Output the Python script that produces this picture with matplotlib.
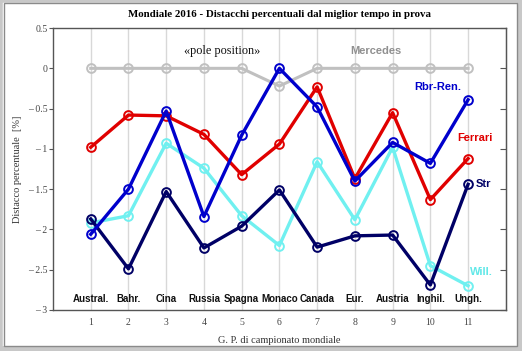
import matplotlib
matplotlib.use("Agg")
import matplotlib.pyplot as plt
from matplotlib.patches import Rectangle

gp = list(range(1, 12))
races = ["Austral.", "Bahr.", "Cina", "Russia", "Spagna", "Monaco",
         "Canada", "Eur.", "Austria", "Inghil.", "Ungh."]

mercedes = [0, 0, 0, 0, 0, -0.22, 0, 0, 0, 0, 0]
ferrari = [-0.98, -0.58, -0.59, -0.82, -1.32, -0.94, -0.23, -1.37, -0.55, -1.63, -1.12]
rbr = [-2.06, -1.50, -0.53, -1.84, -0.83, 0.0, -0.48, -1.40, -0.92, -1.18, -0.39]
stroll = [-1.87, -2.49, -1.53, -2.23, -1.96, -1.51, -2.22, -2.08, -2.07, -2.69, -1.44]
will = [-1.92, -1.83, -0.93, -1.24, -1.83, -2.20, -1.16, -1.88, -0.98, -2.45, -2.70]

yticks = [0.5, 0, -0.5, -1, -1.5, -2, -2.5, -3]
ytick_labels = ["0.5", "0", "\u2013 0.5", "\u2013 1", "\u2013 1.5", "\u2013 2", "\u2013 2.5", "\u2013 3"]

serif = "Liberation Serif"
sans = "Liberation Sans"

fig = plt.figure(figsize=(5.22, 3.51), dpi=100)
ax = fig.add_axes([0.1015, 0.117, 0.8675, 0.803])

# border around the whole picture: light band, thicker bottom/right, and a dark inner line
band = "#c8c8c8"
fig.patches.append(Rectangle((0, 0), 1, 1, transform=fig.transFigure,
                             fill=False, edgecolor=band, lw=4))
fig.patches.append(Rectangle((0, 0), 1, 0.013, transform=fig.transFigure,
                             color=band, lw=0))
fig.patches.append(Rectangle((0.99, 0), 0.01, 1, transform=fig.transFigure,
                             color=band, lw=0))
fig.patches.append(Rectangle((0.0075, 0.014), 0.982, 0.977, transform=fig.transFigure,
                             fill=False, edgecolor="#8a8a8a", lw=1))

for x in gp:
    ax.axvline(x, color="#d8d8d8", lw=1, zorder=0)

mk = dict(marker="o", markersize=6.3, markerfacecolor="none", markeredgewidth=1.4)
ax.plot(gp, mercedes, color="#c0c0c0", lw=2.2, **mk)
ax.plot(gp, will, color="#70f0f0", lw=2.4, **mk)
ax.plot(gp, ferrari, color="#e00000", lw=2.4, **mk)
ax.plot(gp, stroll, color="#000066", lw=2.4, **mk)
ax.plot(gp, rbr, color="#0000cc", lw=2.4, **mk)

for x, name in zip(gp, races):
    ax.text(x, -2.86, name, ha="center", va="center", fontsize=7,
            fontweight="bold", family=sans, color="#111111")

ax.text(4.47, 0.22, "\u00abpole position\u00bb", ha="center", va="center",
        fontsize=8.8, family=serif, color="#111111")
ax.text(8.55, 0.22, "Mercedes", ha="center", va="center", fontsize=8,
        fontweight="bold", family=sans, color="#909090")
ax.text(10.2, -0.23, "Rbr-Ren.", ha="center", va="center", fontsize=8,
        fontweight="bold", family=sans, color="#0000cc")
ax.text(11.17, -0.86, "Ferrari", ha="center", va="center", fontsize=8,
        fontweight="bold", family=sans, color="#e00000")
ax.text(11.2, -1.44, "Str", ha="left", va="center", fontsize=8,
        fontweight="bold", family=sans, color="#000066")
ax.text(11.36, -2.53, "Will.", ha="center", va="center", fontsize=8,
        fontweight="bold", family=sans, color="#60e8e8")

ax.set_xlim(0, 12)
ax.set_ylim(-3, 0.5)
ax.set_xticks(gp)
ax.set_xticklabels([str(g) for g in gp], family=serif, fontsize=7, color="#444444")
ax.set_yticks(yticks)
ax.set_yticklabels(ytick_labels, family=serif, fontsize=7, color="#444444")
ax.tick_params(axis="x", length=0, pad=6)
ax.tick_params(axis="y", length=3, width=0.8, color="#555555", pad=1)

right = ax.secondary_yaxis("right")
right.set_yticks(yticks)
right.tick_params(direction="in", length=4, labelright=False, color="#555555")
right.spines["right"].set_color("#555555")

for s in ax.spines.values():
    s.set_color("#555555")
    s.set_linewidth(1)

ax.set_title("Mondiale 2016 - Distacchi percentuali dal miglior tempo in prova",
             family=serif, fontsize=7.8, fontweight="bold", pad=8)
ax.set_xlabel("G. P. di campionato mondiale", family=serif, fontsize=7.5,
              color="#333333", labelpad=6)
ax.set_ylabel("Distacco percentuale  [%]", family=serif, fontsize=7.5,
              color="#333333", labelpad=4)

fig.savefig("out.png", dpi=100)
